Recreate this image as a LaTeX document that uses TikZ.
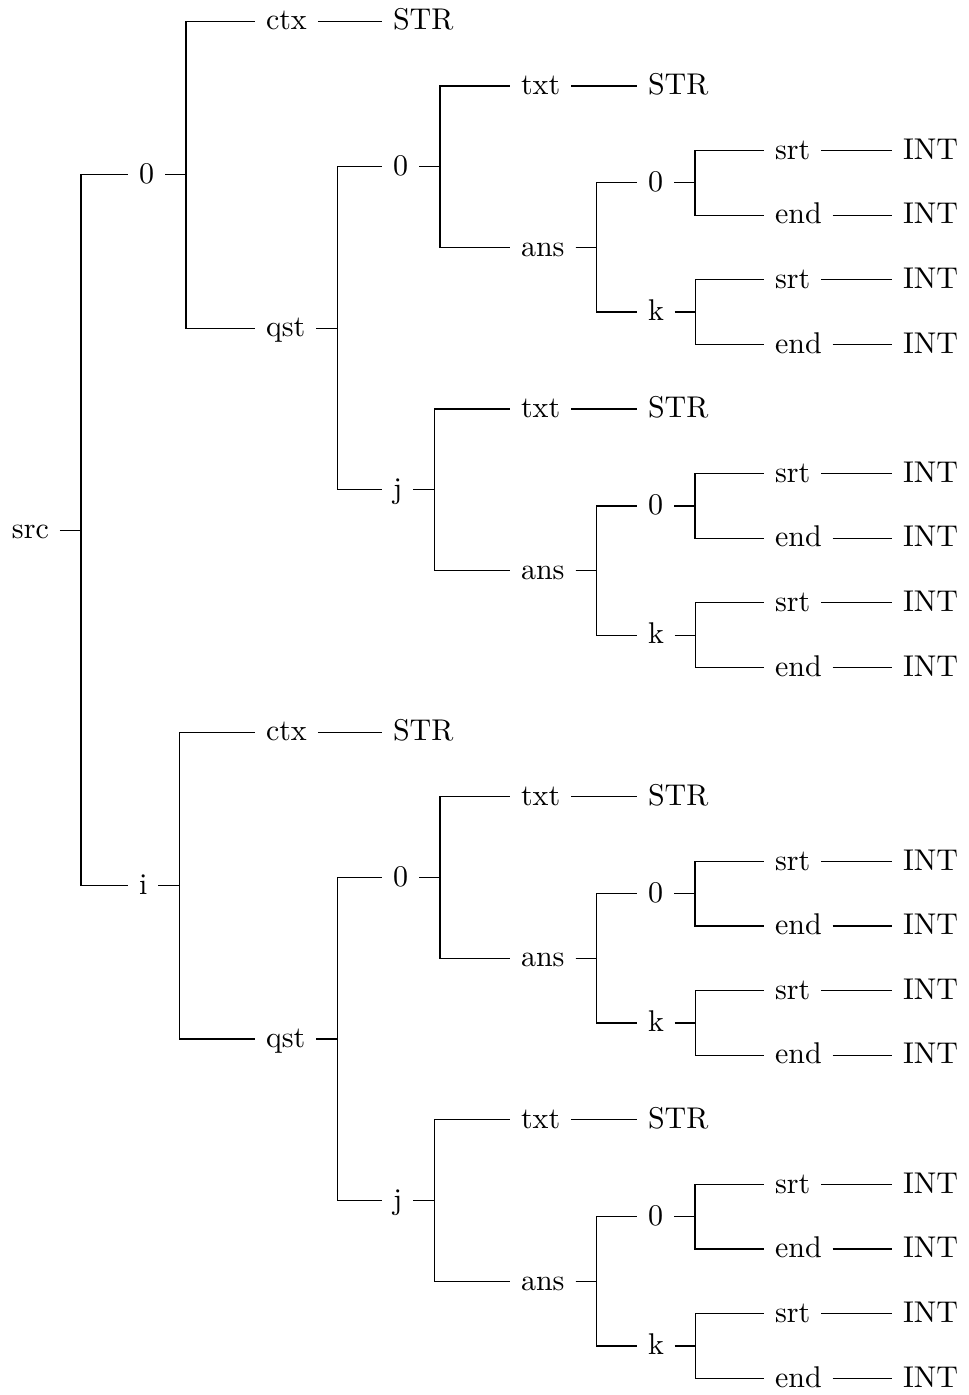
\documentclass[tikz,border=0pt]{standalone}
\tikzset{
  tn/.style={anchor=west, inner xsep=3.667pt, inner ysep=0pt, outer sep=0pt,
             text height=7.5pt, text depth=1.7pt},
  tedgeline/.style={draw, line width=0.4pt}
}
\newcommand\tedge[2]{\path[tedgeline] (#1.east) -- ++(7pt,0) |- (#2.west);}
\newcommand\qblock[3]{%
  \node[tn] (#1) at (382,{#3+1.25}) {#2};
  \node[tn] (#1-txt) at (510,{#3}) {txt};
  \node[tn] (#1-txts) at (637,{#3}) {STR};
  \node[tn] (#1-ans) at (510,{#3+2.5}) {ans};
  \node[tn] (#1-a0) at (637,{#3+1.5}) {0};
  \node[tn] (#1-ak) at (637,{#3+3.5}) {k};
  \node[tn] (#1-a0s) at (764,{#3+1}) {srt};
  \node[tn] (#1-a0si) at (892,{#3+1}) {INT};
  \node[tn] (#1-a0e) at (764,{#3+2}) {end};
  \node[tn] (#1-a0ei) at (892,{#3+2}) {INT};
  \node[tn] (#1-aks) at (764,{#3+3}) {srt};
  \node[tn] (#1-aksi) at (892,{#3+3}) {INT};
  \node[tn] (#1-ake) at (764,{#3+4}) {end};
  \node[tn] (#1-akei) at (892,{#3+4}) {INT};
  \tedge{#1}{#1-txt}\tedge{#1}{#1-ans}\tedge{#1-txt}{#1-txts}
  \tedge{#1-ans}{#1-a0}\tedge{#1-ans}{#1-ak}
  \tedge{#1-a0}{#1-a0s}\tedge{#1-a0}{#1-a0e}
  \tedge{#1-ak}{#1-aks}\tedge{#1-ak}{#1-ake}
  \tedge{#1-a0s}{#1-a0si}\tedge{#1-a0e}{#1-a0ei}
  \tedge{#1-aks}{#1-aksi}\tedge{#1-ake}{#1-akei}
}
\newcommand\tblock[3]{%
  \node[tn] (#1) at (128,{#3+2.375}) {#2};
  \node[tn] (#1-ctx) at (255,{#3}) {ctx};
  \node[tn] (#1-ctxs) at (382,{#3}) {STR};
  \node[tn] (#1-qst) at (255,{#3+4.75}) {qst};
  \qblock{#1-q0}{0}{#3+1}
  \qblock{#1-qj}{j}{#3+6}
  \tedge{#1}{#1-ctx}\tedge{#1}{#1-qst}\tedge{#1-ctx}{#1-ctxs}
  \tedge{#1-qst}{#1-q0}\tedge{#1-qst}{#1-qj}
}
\begin{document}
\begin{tikzpicture}[x=0.33333pt, y=-21.54pt]
  \useasboundingbox (0pt,7.1pt) rectangle (323pt,-457.9pt);
  \node[tn] (src) at (1,7.875) {src};
  \tblock{a}{0}{0}
  \tblock{b}{i}{11}
  \tedge{src}{a}\tedge{src}{b}
\end{tikzpicture}
\end{document}
